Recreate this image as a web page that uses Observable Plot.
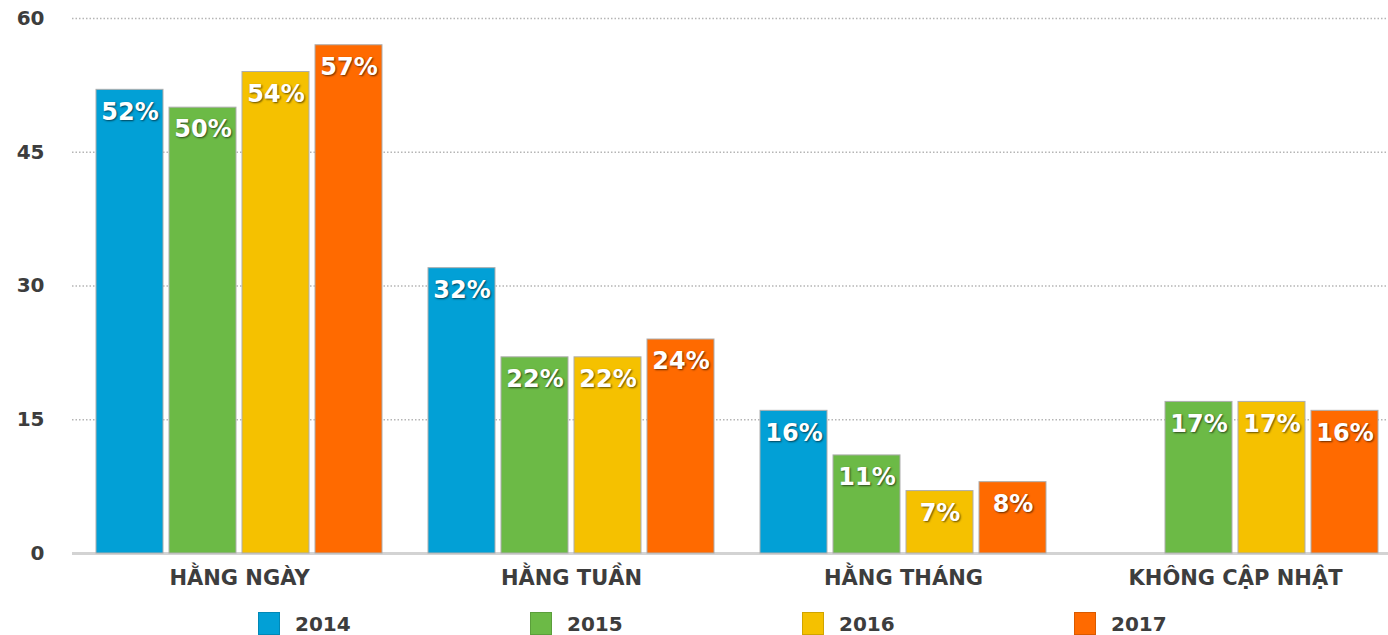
<!DOCTYPE html>
<html>
<head>
<meta charset="utf-8">
<script src="https://cdn.jsdelivr.net/npm/d3@7"></script>
<script src="https://cdn.jsdelivr.net/npm/@observablehq/plot@0.6"></script>
<style>
  body { margin: 0; background: #fff; }
  #wrap { position: relative; width: 1388px; height: 600px; }
  #wrap svg { position: absolute; left: 0; top: 0; background: transparent; }
  #topLayer g[aria-label="text"] text { text-shadow: 1px 1px 2px rgba(0,0,0,0.6); }
  #legend { display: flex; padding-left: 258px; margin-top: 12px; height: 23px;
    font-family: "DejaVu Sans", sans-serif; font-weight: bold; font-size: 20px; color: #3d3d3d; }
  #legend .item { width: 272px; display: flex; align-items: center; }
  #legend .sw { width: 22px; height: 23px; margin-right: 15px; box-sizing: border-box; border: 1px solid rgba(0,0,0,0.15); }
</style>
</head>
<body>
<div id="wrap"><div id="bottomLayer"></div><div id="topLayer"></div></div>
<div id="legend"></div>
<script>
const categories = ["HẰNG NGÀY", "HẰNG TUẦN", "HẰNG THÁNG", "KHÔNG CẬP NHẬT"];
const years = ["2014", "2015", "2016", "2017"];
const values2014 = [52, 32, 16, null];
const values2015 = [50, 22, 11, 17];
const values2016 = [54, 22, 7, 17];
const values2017 = [57, 24, 8, 16];
const colors = ["#02a0d6", "#6cba46", "#f5c100", "#ff6a00"];
const yTicks = [0, 15, 30, 45, 60];

const series = [values2014, values2015, values2016, values2017];
const data = [];
years.forEach((yr, i) => {
  categories.forEach((c, j) => {
    const v = series[i][j];
    if (v != null) data.push({category: c, year: yr, value: v});
  });
});

const W = 1388, H = 600, MT = 18, MB = 47;

const bottomPlot = Plot.plot({
  width: W, height: H,
  marginLeft: 72, marginRight: 0, marginTop: MT, marginBottom: MB,
  style: {fontFamily: "DejaVu Sans, sans-serif", fontSize: "20px", fontWeight: "bold", color: "#3d3d3d", background: "transparent"},
  y: {domain: [0, 60]},
  marks: [
    Plot.ruleY(yTicks.filter(d => d > 0), {stroke: "#b5b5b5", strokeWidth: 1.5, strokeDasharray: "1.5,2"}),
    Plot.ruleY([0], {stroke: "#d3d3d3", strokeWidth: 3}),
    Plot.axisY({ticks: yTicks, tickSize: 0, tickPadding: 28, label: null})
  ]
});
document.getElementById("bottomLayer").appendChild(bottomPlot);

const topPlot = Plot.plot({
  width: W, height: H,
  marginLeft: 94, marginRight: 8, marginTop: MT, marginBottom: MB,
  style: {fontFamily: "DejaVu Sans, sans-serif", fontSize: "21px", fontWeight: "bold", color: "#3d3d3d", background: "transparent"},
  fx: {domain: categories, paddingInner: 0.138, paddingOuter: 0, label: null, tickSize: 0, tickPadding: 17},
  x: {domain: years, paddingInner: 0.085, paddingOuter: 0, axis: null},
  y: {domain: [0, 60], axis: null},
  color: {domain: years, range: colors},
  marks: [
    Plot.barY(data, {fx: "category", x: "year", y: "value", fill: "year", stroke: "#adadad", strokeWidth: 1}),
    Plot.text(data, {fx: "category", x: "year", y: "value", text: d => d.value + "%", dy: 22,
      fill: "white", fontSize: 24, fontWeight: "bold"})
  ]
});
document.getElementById("topLayer").appendChild(topPlot);

const legend = document.getElementById("legend");
years.forEach((yr, i) => {
  const item = document.createElement("div");
  item.className = "item";
  const sw = document.createElement("div");
  sw.className = "sw";
  sw.style.background = colors[i];
  const t = document.createElement("span");
  t.textContent = yr;
  item.appendChild(sw);
  item.appendChild(t);
  legend.appendChild(item);
});
</script>
</body>
</html>
